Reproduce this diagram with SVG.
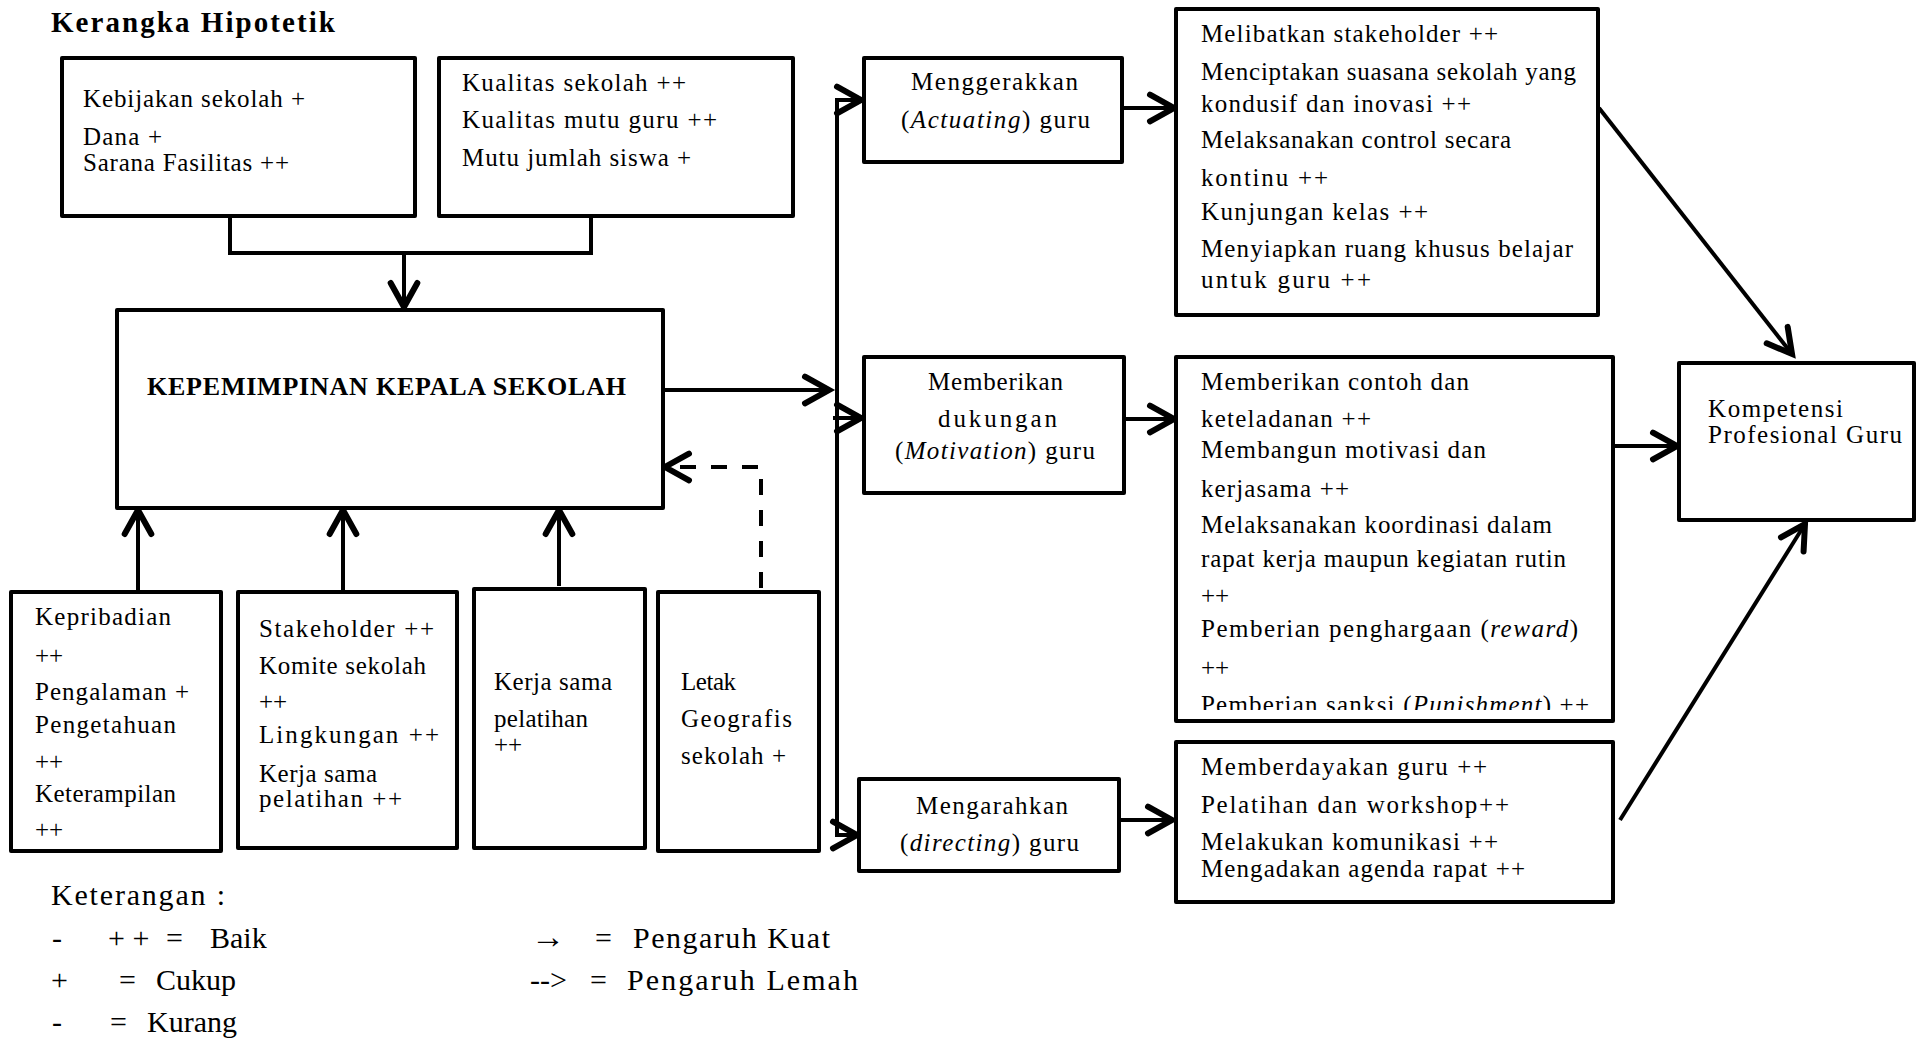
<svg xmlns="http://www.w3.org/2000/svg" width="1916" height="1042" viewBox="0 0 1916 1042">
<style>
.box{fill:#fff;stroke:#000;stroke-width:4;stroke-linejoin:round}
.t{font-family:"Liberation Serif","Times New Roman",serif;font-size:25px;fill:#000}
.lg{font-family:"Liberation Serif","Times New Roman",serif;font-size:30px;fill:#000}
.b{font-weight:bold}
.i{font-style:italic}
.c{fill:none;stroke:#000;stroke-width:4}
.a{marker-end:url(#ah)}
.d{stroke-dasharray:16 15}
</style>
<defs>
<marker id="ah" markerUnits="userSpaceOnUse" markerWidth="40" markerHeight="40" viewBox="-25 -15 30 30" refX="0" refY="0" orient="auto" overflow="visible">
<path d="M-18,-10 L0,0 L-18,10" fill="none" stroke="#000" stroke-width="4.5" stroke-linecap="round" stroke-linejoin="miter"/>
</marker>
<clipPath id="clipG"><rect x="1176" y="357" width="437" height="353"/></clipPath>
</defs>
<rect width="1916" height="1042" fill="#fff"/>

<text class="t b" x="51" y="32" style="font-size:29px" textLength="284" lengthAdjust="spacing">Kerangka Hipotetik</text>

<g id="connectors">
<path class="c" d="M230,218 V253 H591 V218"/>
<path class="c a" d="M404,253 V307"/>
<path class="c a" d="M665,390 H829"/>
<path class="c" d="M837,100 V835" stroke-linecap="square"/>
<path class="c a" d="M837,100 H861"/>
<path class="c a" d="M833,418 H861"/>
<path class="c a" d="M837,835 H857"/>
<path class="c a" d="M1124,108 H1174"/>
<path class="c a" d="M1126,419 H1174"/>
<path class="c a" d="M1121,820 H1172"/>
<path class="c a" d="M1599,108 L1792,354"/>
<path class="c a" d="M1615,446 H1677"/>
<path class="c a" d="M1620,820 L1805,524"/>
<path class="c a" d="M138,590 V510"/>
<path class="c a" d="M343,590 V510"/>
<path class="c a" d="M559,586 V510"/>
<path class="c d" d="M761,588 V467 H680"/>
<path class="c a" d="M670,467 H665"/>
</g>

<g id="node-kebijakan">
<rect class="box" x="62" y="58" width="353" height="158"/>
<text class="t" x="83" y="107" textLength="222" lengthAdjust="spacing">Kebijakan sekolah +</text>
<text class="t" x="83" y="145" textLength="79" lengthAdjust="spacing">Dana +</text>
<text class="t" x="83" y="171" textLength="206" lengthAdjust="spacing">Sarana Fasilitas  ++</text>
</g>

<g id="node-kualitas">
<rect class="box" x="439" y="58" width="354" height="158"/>
<text class="t" x="462" y="91" textLength="224" lengthAdjust="spacing">Kualitas sekolah  ++</text>
<text class="t" x="462" y="128" textLength="255" lengthAdjust="spacing">Kualitas mutu guru ++</text>
<text class="t" x="462" y="166" textLength="229" lengthAdjust="spacing">Mutu jumlah siswa +</text>
</g>

<g id="node-kepemimpinan">
<rect class="box" x="117" y="310" width="546" height="198"/>
<text class="t b" x="147" y="395" style="font-size:26px" textLength="479" lengthAdjust="spacing">KEPEMIMPINAN KEPALA SEKOLAH</text>
</g>

<g id="node-menggerakkan">
<rect class="box" x="864" y="58" width="258" height="104"/>
<text class="t" x="911" y="90" textLength="167" lengthAdjust="spacing">Menggerakkan</text>
<text class="t" x="901" y="128" textLength="189" lengthAdjust="spacing">(<tspan class="i">Actuating</tspan>) guru</text>
</g>

<g id="node-actuating-detail">
<rect class="box" x="1176" y="9" width="422" height="306"/>
<text class="t" x="1201" y="42" textLength="297" lengthAdjust="spacing">Melibatkan  stakeholder ++</text>
<text class="t" x="1201" y="80" textLength="375" lengthAdjust="spacing">Menciptakan suasana sekolah yang</text>
<text class="t" x="1201" y="112" textLength="270" lengthAdjust="spacing">kondusif dan inovasi ++</text>
<text class="t" x="1201" y="148" textLength="310" lengthAdjust="spacing">Melaksanakan control secara</text>
<text class="t" x="1201" y="186" textLength="127" lengthAdjust="spacing">kontinu ++</text>
<text class="t" x="1201" y="220" textLength="227" lengthAdjust="spacing">Kunjungan kelas ++</text>
<text class="t" x="1201" y="257" textLength="372" lengthAdjust="spacing">Menyiapkan ruang khusus belajar</text>
<text class="t" x="1201" y="288" textLength="170" lengthAdjust="spacing">untuk guru ++</text>
</g>

<g id="node-memberikan-dukungan">
<rect class="box" x="864" y="357" width="260" height="136"/>
<text class="t" x="928" y="390" textLength="135" lengthAdjust="spacing">Memberikan</text>
<text class="t" x="938" y="427" textLength="119" lengthAdjust="spacing">dukungan</text>
<text class="t" x="895" y="459" textLength="200" lengthAdjust="spacing">(<tspan class="i">Motivation</tspan>) guru</text>
</g>

<g id="node-motivation-detail">
<rect class="box" x="1176" y="357" width="437" height="364"/>
<text class="t" x="1201" y="390" textLength="268" lengthAdjust="spacing">Memberikan contoh dan</text>
<text class="t" x="1201" y="427" textLength="170" lengthAdjust="spacing">keteladanan  ++</text>
<text class="t" x="1201" y="458" textLength="285" lengthAdjust="spacing">Membangun motivasi dan</text>
<text class="t" x="1201" y="497" textLength="148" lengthAdjust="spacing">kerjasama ++</text>
<text class="t" x="1201" y="533" textLength="351" lengthAdjust="spacing">Melaksanakan koordinasi dalam</text>
<text class="t" x="1201" y="567" textLength="365" lengthAdjust="spacing">rapat kerja maupun kegiatan rutin</text>
<text class="t" x="1201" y="604">++</text>
<text class="t" x="1201" y="637" textLength="377" lengthAdjust="spacing">Pemberian penghargaan (<tspan class="i">reward</tspan>)</text>
<text class="t" x="1201" y="676">++</text>
<text class="t" x="1201" y="713" clip-path="url(#clipG)" textLength="388" lengthAdjust="spacing">Pemberian sanksi (<tspan class="i">Punishment</tspan>) ++</text>
</g>

<g id="node-mengarahkan">
<rect class="box" x="859" y="779" width="260" height="92"/>
<text class="t" x="916" y="814" textLength="152" lengthAdjust="spacing">Mengarahkan</text>
<text class="t" x="900" y="851" textLength="179" lengthAdjust="spacing">(<tspan class="i">directing</tspan>) guru</text>
</g>

<g id="node-directing-detail">
<rect class="box" x="1176" y="742" width="437" height="160"/>
<text class="t" x="1201" y="775" textLength="286" lengthAdjust="spacing">Memberdayakan guru ++</text>
<text class="t" x="1201" y="813" textLength="308" lengthAdjust="spacing">Pelatihan  dan workshop++</text>
<text class="t" x="1201" y="850" textLength="297" lengthAdjust="spacing">Melakukan komunikasi ++</text>
<text class="t" x="1201" y="877" textLength="324" lengthAdjust="spacing">Mengadakan agenda rapat ++</text>
</g>

<g id="node-kompetensi">
<rect class="box" x="1679" y="363" width="235" height="157"/>
<text class="t" x="1708" y="417" textLength="135" lengthAdjust="spacing">Kompetensi</text>
<text class="t" x="1708" y="443" textLength="194" lengthAdjust="spacing">Profesional Guru</text>
</g>

<g id="node-kepribadian">
<rect class="box" x="11" y="592" width="210" height="259"/>
<text class="t" x="35" y="625" textLength="136" lengthAdjust="spacing">Kepribadian</text>
<text class="t" x="35" y="664">++</text>
<text class="t" x="35" y="700" textLength="154" lengthAdjust="spacing">Pengalaman +</text>
<text class="t" x="35" y="733" textLength="141" lengthAdjust="spacing">Pengetahuan</text>
<text class="t" x="35" y="770">++</text>
<text class="t" x="35" y="802" textLength="141" lengthAdjust="spacing">Keterampilan</text>
<text class="t" x="35" y="838">++</text>
</g>

<g id="node-stakeholder">
<rect class="box" x="238" y="592" width="219" height="256"/>
<text class="t" x="259" y="637" textLength="175" lengthAdjust="spacing">Stakeholder  ++</text>
<text class="t" x="259" y="674" textLength="167" lengthAdjust="spacing">Komite sekolah</text>
<text class="t" x="259" y="710">++</text>
<text class="t" x="259" y="743" textLength="180" lengthAdjust="spacing">Lingkungan ++</text>
<text class="t" x="259" y="782" textLength="118" lengthAdjust="spacing">Kerja sama</text>
<text class="t" x="259" y="807" textLength="143" lengthAdjust="spacing">pelatihan  ++</text>
</g>

<g id="node-kerjasama">
<rect class="box" x="474" y="589" width="171" height="259"/>
<text class="t" x="494" y="690" textLength="118" lengthAdjust="spacing">Kerja sama</text>
<text class="t" x="494" y="727" textLength="94" lengthAdjust="spacing">pelatihan</text>
<text class="t" x="494" y="753">++</text>
</g>

<g id="node-letak">
<rect class="box" x="658" y="592" width="161" height="259"/>
<text class="t" x="681" y="690" textLength="55" lengthAdjust="spacing">Letak</text>
<text class="t" x="681" y="727" textLength="111" lengthAdjust="spacing">Geografis</text>
<text class="t" x="681" y="764" textLength="105" lengthAdjust="spacing">sekolah +</text>
</g>

<g id="legend">
<text class="lg" x="51" y="905" textLength="174" lengthAdjust="spacing">Keterangan :</text>
<text class="lg" y="948"><tspan x="52">-</tspan><tspan x="108">+ +</tspan><tspan x="166">=</tspan><tspan x="210">Baik</tspan></text>
<text class="lg" y="990"><tspan x="51">+</tspan><tspan x="119">=</tspan><tspan x="156">Cukup</tspan></text>
<text class="lg" y="1032"><tspan x="52">-</tspan><tspan x="110">=</tspan><tspan x="147">Kurang</tspan></text>
<text class="lg" y="948"><tspan x="531" style="font-size:34px">→</tspan><tspan x="595">=</tspan></text>
<text class="lg" x="633" y="948" textLength="197" lengthAdjust="spacing">Pengaruh Kuat</text>
<text class="lg" y="990"><tspan x="530">--&gt;</tspan><tspan x="590">=</tspan></text>
<text class="lg" x="627" y="990" textLength="231" lengthAdjust="spacing">Pengaruh Lemah</text>
</g>
</svg>
